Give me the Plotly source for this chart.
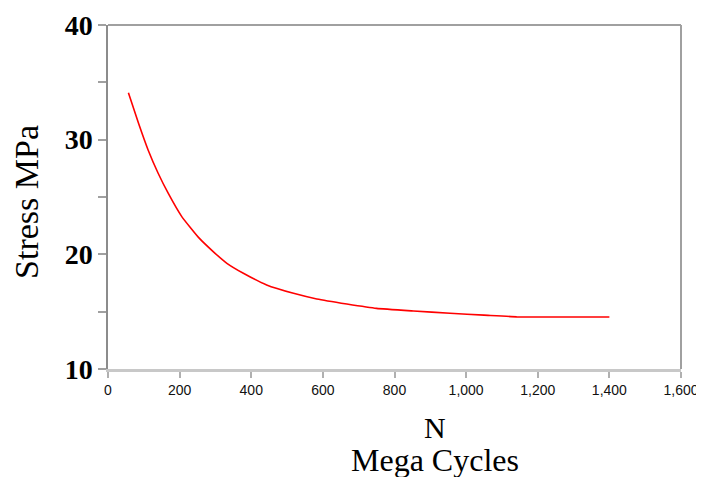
import plotly.graph_objects as go

n_cycles = [57, 85, 112, 140, 168, 206, 252, 299, 332, 378, 443, 518, 583, 667, 750, 853, 955, 1050, 1141, 1270, 1400]
stress = [34.1, 31.45, 29.1, 27.07, 25.33, 23.29, 21.5, 20.09, 19.22, 18.35, 17.33, 16.6, 16.11, 15.67, 15.29, 15.06, 14.86, 14.7, 14.55, 14.53, 14.53]

x_ticks = [0, 200, 400, 600, 800, 1000, 1200, 1400, 1600]
y_ticks = [10, 20, 30, 40]

fig = go.Figure()
fig.add_trace(go.Scatter(x=n_cycles, y=stress, mode="lines",
                         line=dict(color="#ff0000", width=1.6, shape="spline", smoothing=0.4),
                         showlegend=False, hoverinfo="skip"))

fig.update_layout(
    width=696, height=469,
    margin=dict(l=100, r=23, t=17, b=108),
    paper_bgcolor="white", plot_bgcolor="white",
    xaxis=dict(range=[0, 1600], tickvals=x_ticks, tickformat=",d",
               showgrid=False, zeroline=False,
               showline=True, linecolor="#c8c8c8", linewidth=2.5, mirror=False,
               ticks="outside", ticklen=6, tickwidth=1.5, tickcolor="#b0b0b0",
               tickfont=dict(family="Liberation Sans", size=14, color="#111"),
               ticklabeloverflow="allow",
               automargin=False, fixedrange=True),
    yaxis=dict(range=[10, 40], tickvals=y_ticks,
               showgrid=False, zeroline=False,
               showline=True, linecolor="#8c8c8c", linewidth=1.5,
               ticks="outside", ticklen=8, tickwidth=1.5, tickcolor="#a0a0a0",
               minor=dict(dtick=5, ticks="outside", ticklen=8, tickcolor="#a0a0a0", tickwidth=1.5, showgrid=False),
               tickfont=dict(family="Liberation Serif", size=28, color="#000", weight="bold"),
               ticklabeloverflow="allow",
               automargin=False, fixedrange=True),
    shapes=[
        dict(type="line", xref="paper", yref="paper", x0=0, x1=1, y0=1, y1=1,
             line=dict(color="#a0a0a0", width=2)),
        dict(type="line", xref="paper", yref="paper", x0=1, x1=1, y0=0, y1=1,
             line=dict(color="#a0a0a0", width=2)),
    ],
    annotations=[
        dict(text="N", xref="paper", yref="paper", x=0.5707, y=-0.1715, xanchor="center", yanchor="middle",
             showarrow=False, font=dict(family="Liberation Serif", size=30, color="#000")),
        dict(text="Mega Cycles", xref="paper", yref="paper", x=0.5707, y=-0.2645, xanchor="center", yanchor="middle",
             showarrow=False, font=dict(family="Liberation Serif", size=32, color="#000")),
        dict(text="Stress MPa", xref="paper", yref="paper", x=-0.1414, y=0.4855, xanchor="center", yanchor="middle",
             textangle=-90, showarrow=False, font=dict(family="Liberation Serif", size=34, color="#000")),
    ],
)

fig.write_html("out.html")
